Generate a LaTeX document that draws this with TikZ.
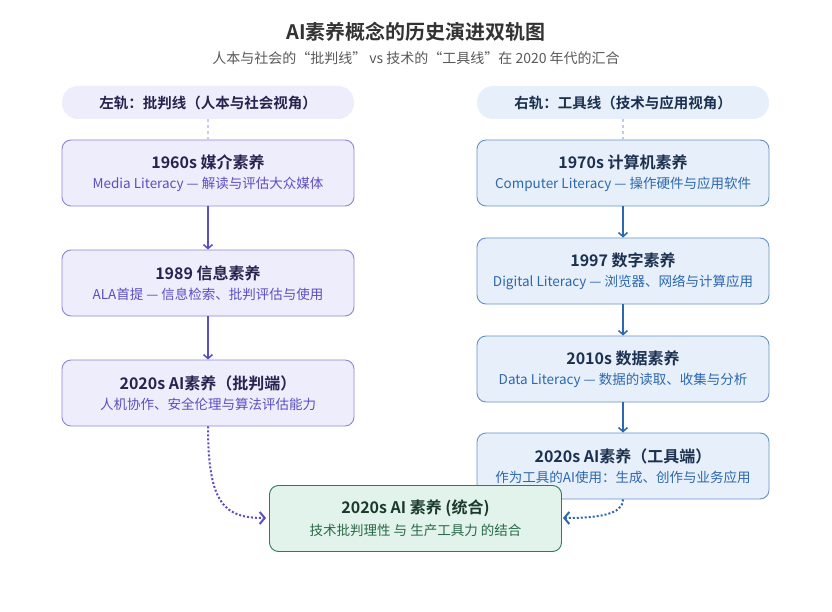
\documentclass[tikz,border=0pt]{standalone}
\usepackage{fontspec}
\setmainfont{Noto Sans CJK SC}[BoldFont={Noto Sans CJK SC Bold}]
\usetikzlibrary{arrows.meta}

\definecolor{lfill}{HTML}{EEEDFB}
\definecolor{ldraw}{HTML}{8E85DA}
\definecolor{ltext}{HTML}{27234F}
\definecolor{lsub}{HTML}{5A4FC2}
\definecolor{rfill}{HTML}{E7F0FA}
\definecolor{rdraw}{HTML}{6592C8}
\definecolor{rtext}{HTML}{1C3050}
\definecolor{rsub}{HTML}{2D67AE}
\definecolor{gfill}{HTML}{E1F3EA}
\definecolor{gdraw}{HTML}{2F7A59}
\definecolor{gtext}{HTML}{1A3A2C}
\definecolor{gsub}{HTML}{2A6A48}

\tikzset{
  era/.style={draw, line width=0.9pt, rounded corners=9pt, minimum width=292pt,
    minimum height=66pt, align=center, inner sep=0pt},
  leftera/.style={era, fill=lfill, draw=ldraw, text=ltext},
  rightera/.style={era, fill=rfill, draw=rdraw, text=rtext},
  track/.style={rounded corners=16pt, minimum width=292pt, minimum height=33pt,
    font=\fontsize{14.5}{17}\selectfont\bfseries},
  flow/.style={line width=1.5pt, -{Straight Barb[length=4pt,width=9pt]}},
  merge/.style={line width=2pt, dotted, -{Straight Barb[length=5pt,width=12pt]}}
}
\newcommand{\eratext}[3]{{\fontsize{16}{19}\selectfont\bfseries #1}\\[6pt]{\fontsize{13.5}{16}\selectfont\color{#3}#2}}

\begin{document}
\begin{tikzpicture}[x=1pt,y=-1pt]
\useasboundingbox[fill=white] (0,0) rectangle (832,612);

% title
\node[font=\fontsize{20}{24}\selectfont\bfseries, text=black!80] (title) at (416,32) {AI素养概念的历史演进双轨图};
\node[font=\fontsize{14}{17}\selectfont, text=black!65] (subtitle) at (416,58) {人本与社会的“批判线” vs 技术的“工具线”在 2020 年代的汇合};

% track headers
\node[track, fill=lfill, text=ltext] (lhead) at (208,102.5) {左轨：批判线（人本与社会视角）};
\node[track, fill=rfill, text=rtext] (rhead) at (623,102.5) {右轨：工具线（技术与应用视角）};

% left track
\node[leftera] (l1) at (208,173) {\eratext{1960s 媒介素养}{Media Literacy — 解读与评估大众媒体}{lsub}};
\node[leftera] (l2) at (208,283) {\eratext{1989 信息素养}{ALA首提 — 信息检索、批判评估与使用}{lsub}};
\node[leftera] (l3) at (208,393) {\eratext{2020s AI素养（批判端）}{人机协作、安全伦理与算法评估能力}{lsub}};

% right track
\node[rightera] (r1) at (623,173) {\eratext{1970s 计算机素养}{Computer Literacy — 操作硬件与应用软件}{rsub}};
\node[rightera] (r2) at (623,271) {\eratext{1997 数字素养}{Digital Literacy — 浏览器、网络与计算应用}{rsub}};
\node[rightera] (r3) at (623,369) {\eratext{2010s 数据素养}{Data Literacy — 数据的读取、收集与分析}{rsub}};
\node[rightera] (r4) at (623,466) {\eratext{2020s AI素养（工具端）}{作为工具的AI使用：生成、创作与业务应用}{rsub}};

\draw[dashed, line width=2pt, color=ldraw!45] (lhead) -- (l1);
\draw[dashed, line width=2pt, color=rdraw!45] (rhead) -- (r1);

\draw[flow, lsub] (l1) -- (l2);
\draw[flow, lsub] (l2) -- (l3);
\draw[flow, rsub] (r1) -- (r2);
\draw[flow, rsub] (r2) -- (r3);
\draw[flow, rsub] (r3) -- (r4);

% merge curves
\draw[merge, lsub] (l3.south) .. controls (208,505) and (225,518) .. (266,518);
\draw[merge, rsub] (r4.south) .. controls (623,514) and (600,518) .. (563,518);

% merged node
\node[era, fill=gfill, draw=gdraw, text=gtext] (ai) at (415.5,518.5) {\eratext{2020s AI 素养 (统合)}{技术批判理性 与 生产工具力 的结合}{gsub}};
\end{tikzpicture}
\end{document}
